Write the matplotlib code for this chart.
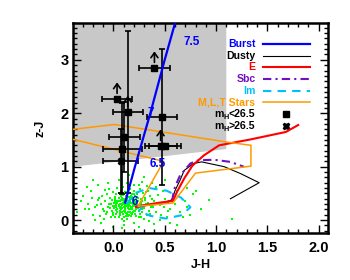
import matplotlib
matplotlib.use("Agg")
from matplotlib import pyplot as plt
from matplotlib.ticker import MultipleLocator
from matplotlib.transforms import offset_copy

plt.rcParams['font.family'] = ['Liberation Sans', 'DejaVu Sans']
plt.rcParams['font.weight'] = 'bold'

# selection region (grey) and tracks
region_x = [-0.39, 1.10, 1.10, -0.39]
region_y = [1.00, 1.33, 3.80, 3.80]

burst_x = [0.115, 0.21, 0.36, 0.50, 0.61]
burst_y = [0.33, 1.00, 2.00, 3.00, 3.75]
burst_lbl = ['6', '6.5', '7', '7.5']
burst_lbl_x = [0.175, 0.35, 0.33, 0.68]
burst_lbl_y = [0.34, 1.05, 2.00, 3.33]

e_x = [0.22, 0.30, 0.46, 0.58, 0.62, 0.69, 0.77, 0.88, 1.03, 1.335, 1.68, 1.80]
e_y = [0.25, 0.28, 0.33, 0.36, 0.53, 0.78, 1.02, 1.21, 1.40, 1.51, 1.65, 1.78]

sbc_x = [0.22, 0.40, 0.57, 0.58, 0.60, 0.65, 0.75, 0.83, 0.98, 1.14, 1.27]
sbc_y = [0.25, 0.30, 0.33, 0.45, 0.62, 0.84, 1.06, 1.12, 1.13, 1.09, 1.00]

dusty_x = [0.22, 0.45, 0.57, 0.60, 0.65, 0.69, 0.78, 0.86, 1.08, 1.24, 1.42, 1.14]
dusty_y = [0.25, 0.30, 0.38, 0.55, 0.75, 0.93, 1.06, 1.09, 1.00, 0.87, 0.70, 0.40]

im_x = [0.13, 0.20, 0.35, 0.52, 0.66, 0.75, 0.66, 0.51, 0.36, 0.25, 0.30]
im_y = [0.30, 0.50, 0.60, 0.55, 0.42, 0.24, 0.09, 0.03, 0.08, 0.18, 0.28]

stars_x = [-0.39, 0.01, 1.11, 1.34, 1.34, 0.80, 0.58, 0.24, 0.49, -0.39]
stars_y = [1.70, 1.79, 1.46, 1.40, 1.01, 0.88, 0.32, 0.26, 1.10, 1.51]

# simulated objects (green)
sim_x = [0.05, 0.12, 0.08, 0.15, 0.02, 0.18, 0.10, 0.07, 0.20, 0.13,
         -0.02, 0.25, 0.09, 0.16, 0.04, 0.11, 0.22, 0.01, 0.14, 0.19,
         0.06, 0.28, -0.05, 0.12, 0.17, 0.03, 0.23, 0.08, 0.10, 0.30,
         -0.08, 0.15, 0.21, 0.00, 0.13, 0.26, 0.07, 0.18, -0.03, 0.11,
         0.24, 0.05, 0.16, 0.09, 0.32, -0.10, 0.14, 0.20, 0.02, 0.27,
         0.12, 0.06, 0.35, -0.06, 0.17, 0.22, 0.04, 0.10, 0.29, -0.12,
         0.19, 0.08, 0.13, 0.31, -0.01, 0.16, 0.25, 0.03, 0.11, 0.37,
         -0.15, 0.21, 0.07, 0.14, 0.33, 0.00, 0.18, 0.27, 0.09, -0.07,
         0.23, 0.12, 0.40, 0.05, 0.17, -0.18, 0.28, 0.10, 0.20, 0.02,
         0.36, -0.04, 0.15, 0.26, 0.08, 0.42, -0.11, 0.19, 0.13, 0.30,
         0.06, 0.24, -0.02, 0.34, 0.11, 0.16, 0.45, -0.09, 0.22, 0.04,
         -0.25, -0.30, -0.20, -0.22, -0.28, -0.15, -0.18, -0.12, -0.26, -0.32,
         0.50, 0.55, 0.48, 0.60, 0.52, 0.58, 0.65, 0.47, 0.70, 0.62,
         0.38, 0.28, 0.05, -0.05, 0.18, 0.42, 0.10, 0.20, 0.35, 0.00,
         0.45, 0.55, 0.75, 0.80, 0.78, 0.93, 1.16, 0.72, 0.68, 0.40,
         -0.35, 0.15, 0.08, 0.30, 0.62, 0.85, 0.50, 0.72, -0.20, 0.25,
         0.01, 0.03, 0.05, 0.07, 0.09, 0.11, 0.13, 0.15, 0.17, 0.19,
         0.21, 0.23, 0.00, 0.02, 0.04, 0.06, 0.08, 0.10, 0.12, 0.14,
         0.16, 0.18, 0.20, 0.22, 0.24, -0.03, -0.01, 0.01, 0.03, 0.05,
         0.07, 0.09, 0.11, 0.13, 0.15, 0.17, 0.19, 0.21, 0.26, 0.28,
         0.04, 0.08, 0.12, 0.16, 0.20, 0.24, 0.06, 0.10, 0.14, 0.18,
         0.02, 0.09, 0.15, 0.21, 0.27, 0.05, 0.11, 0.17, 0.23, 0.29,
         -0.04, 0.00, 0.07, 0.13, 0.19, 0.25, 0.03, 0.08, 0.14, 0.20,
         0.10, 0.16, 0.06, 0.12, 0.18, 0.22, 0.31, 0.34, -0.06, 0.38,
         -0.14, -0.09, 0.39, 0.44, 0.32, -0.16, 0.27, 0.36, -0.08, 0.43,
         0.53, 0.57, -0.21, -0.24, 0.41, 0.46, 0.33, -0.13, 0.25, 0.49]
sim_y = [0.28, 0.35, 0.22, 0.30, 0.40, 0.25, 0.18, 0.45, 0.38, 0.12,
         0.30, 0.28, 0.33, 0.42, 0.15, 0.27, 0.20, 0.22, 0.50, 0.15,
         0.36, 0.35, 0.25, 0.08, 0.33, 0.48, 0.44, 0.02, 0.40, 0.22,
         0.35, 0.20, 0.30, 0.10, 0.38, 0.12, 0.55, 0.48, 0.42, 0.23,
         0.36, 0.05, 0.26, 0.12, 0.30, 0.20, 0.16, 0.55, 0.32, 0.40,
         0.45, 0.18, 0.18, 0.48, 0.08, 0.26, 0.60, 0.30, 0.50, 0.30,
         0.35, 0.28, 0.02, 0.42, 0.18, 0.58, 0.05, 0.25, 0.52, 0.25,
         0.38, 0.12, 0.38, 0.33, 0.10, 0.52, 0.20, 0.30, 0.62, 0.12,
         0.48, 0.14, 0.35, 0.42, 0.40, 0.25, 0.20, -0.02, 0.65, 0.05,
         0.45, 0.58, 0.10, 0.58, 0.48, 0.15, 0.45, 0.28, 0.70, 0.02,
         0.30, 0.22, 0.05, 0.55, 0.36, 0.15, 0.28, 0.02, 0.40, 0.35,
         0.30, 0.45, 0.10, 0.55, 0.20, 0.65, 0.00, -0.05, 0.62, 0.35,
         0.40, 0.20, 0.55, 0.30, 0.05, 0.45, 0.15, 0.65, 0.35, 0.55,
         0.70, 0.72, 0.75, 0.70, 0.78, 0.62, -0.10, -0.05, -0.02, -0.12,
         0.00, -0.05, 0.10, 0.55, 0.48, 0.37, 0.02, 0.60, 0.05, -0.08,
         0.15, 0.85, -0.15, 0.80, -0.10, 0.20, 0.75, 0.25, 0.75, -0.12,
         0.33, 0.19, 0.26, 0.31, 0.37, 0.21, 0.29, 0.36, 0.24, 0.41,
         0.34, 0.27, 0.14, 0.44, 0.32, 0.09, 0.40, 0.25, 0.31, 0.22,
         0.37, 0.43, 0.18, 0.33, 0.29, 0.22, 0.38, 0.27, 0.12, 0.35,
         0.24, 0.47, 0.16, 0.42, 0.28, 0.13, 0.31, 0.46, 0.24, 0.15,
         0.20, 0.16, 0.39, 0.20, 0.27, 0.41, 0.23, 0.35, 0.26, 0.11,
         0.36, 0.30, 0.44, 0.17, 0.33, 0.51, 0.19, 0.46, 0.35, 0.27,
         0.30, 0.26, 0.20, 0.53, 0.39, 0.18, 0.29, 0.42, 0.08, 0.49,
         0.06, 0.34, 0.13, 0.27, 0.32, 0.08, 0.37, 0.33, 0.16, 0.40,
         0.41, 0.17, 0.24, 0.33, 0.52, 0.28, 0.06, 0.12, 0.57, 0.47,
         0.18, 0.38, 0.42, 0.21, 0.58, 0.09, 0.63, 0.07, 0.66, 0.25]

# observed candidates, m_H < 26.5 (squares)
obs_x = [0.40, 0.475, 0.036, 0.14, 0.107, 0.085, 0.46, 0.50]
obs_y = [2.85, 1.93, 2.27, 2.02, 1.56, 1.34, 1.39, 1.39]
obs_xerr = [0.155, 0.145, 0.15, 0.145, 0.15, 0.19, 0.155, 0.155]
obs_yerr = [0.0, 1.28, 0.0, 1.52, 0.65, 0.85, 0.0, 0.0]
obs_lolim = [True, False, True, True, False, False, True, False]

# m_H > 26.5 (crosses)
faint_x = [0.07]
faint_y = [1.10]
faint_xerr = [0.17]
faint_yerr = [0.60]

legend_names = ['Burst', 'Dusty', 'E', 'Sbc', 'Im', 'M,L,T Stars']
legend_colors = ['#0000ff', 'black', '#ff0000', '#7010c0', '#00bfff', '#ff9900']
mag_names = ['<26.5', '>26.5']

fig = plt.figure(figsize=(3.5, 2.8), dpi=100)
ax = fig.add_axes([0.2095, 0.168, 0.7275, 0.75])

ax.fill(region_x, region_y, color='#c8c8c8', lw=0, zorder=0)
ax.scatter(sim_x, sim_y, s=3.5, color='#00ff00', marker='s', lw=0, zorder=1)

ax.plot(dusty_x, dusty_y, color='black', lw=0.8, zorder=2)
ax.plot(im_x, im_y, color='#00bfff', lw=1.5, ls=(0, (4, 3)), zorder=2)
ax.plot(sbc_x, sbc_y, color='#7010c0', lw=1.5, ls=(0, (4, 2, 1, 2)), zorder=2)
ax.plot(e_x, e_y, color='#ff0000', lw=1.5, zorder=3)
ax.plot(stars_x, stars_y, color='#ff9900', lw=1.1, zorder=3)

ax.errorbar(obs_x, obs_y, xerr=obs_xerr, yerr=obs_yerr, fmt='s', color='black',
            ms=5, elinewidth=1.2, capsize=2, capthick=1.2, zorder=4)
ax.errorbar(faint_x, faint_y, xerr=faint_xerr, yerr=faint_yerr, fmt='X', color='black',
            ms=5, elinewidth=1.2, capsize=2, capthick=1.2, zorder=4)
for x, y, lim in zip(obs_x, obs_y, obs_lolim):
    if lim:
        ax.annotate('', xy=(x, y + 0.36), xytext=(x, y + 0.05),
                    arrowprops=dict(arrowstyle='->,head_length=0.35,head_width=0.25',
                                    lw=1.2, color='black'), zorder=5)

ax.plot(burst_x, burst_y, color='#0000ff', lw=1.6, zorder=5)
for t, x, y in zip(burst_lbl, burst_lbl_x, burst_lbl_y):
    ax.text(x, y, t, color='#0000ff', fontsize=8.5, fontweight='bold',
            va='center', ha='left', zorder=6)

# legend drawn by hand, like the original
leg_y0 = 3.30
leg_dy = 0.219
for i, (name, col) in enumerate(zip(legend_names, legend_colors)):
    y = leg_y0 - i * leg_dy
    ax.text(1.384, y, name, color=col, fontsize=7.6, fontweight='bold',
            ha='right', va='center', zorder=6)

# m_H rows: "m", subscript "H", then the limit, placed piece by piece
fig.canvas.draw()
renderer = fig.canvas.get_renderer()
for i, name in enumerate(mag_names):
    y = leg_y0 - (6 + i) * leg_dy
    t1 = ax.text(1.384, y, name, fontsize=7.6, fontweight='bold',
                 ha='right', va='center', zorder=6)
    w1 = t1.get_window_extent(renderer).width * 72 / fig.dpi
    tr = offset_copy(ax.transData, fig=fig, x=-w1, y=-2.5, units='points')
    t2 = ax.text(1.384, y, 'H', fontsize=5.2, fontweight='bold',
                 ha='right', va='center', transform=tr, zorder=6)
    w2 = t2.get_window_extent(renderer).width * 72 / fig.dpi
    tr2 = offset_copy(ax.transData, fig=fig, x=-w1 - w2, y=0, units='points')
    ax.text(1.384, y, 'm', fontsize=7.6, fontweight='bold',
            ha='right', va='center', transform=tr2, zorder=6)

ax.plot([1.46, 1.92], [leg_y0] * 2, color='#0000ff', lw=1.6)
ax.plot([1.46, 1.92], [leg_y0 - leg_dy] * 2, color='black', lw=0.8)
ax.plot([1.46, 1.92], [leg_y0 - 2 * leg_dy] * 2, color='#ff0000', lw=1.5)
ax.plot([1.46, 1.92], [leg_y0 - 3 * leg_dy] * 2, color='#7010c0', lw=1.5, ls=(0, (4, 2, 1, 2)))
ax.plot([1.46, 1.92], [leg_y0 - 4 * leg_dy] * 2, color='#00bfff', lw=1.5, ls=(0, (4, 3)))
ax.plot([1.46, 1.92], [leg_y0 - 5 * leg_dy] * 2, color='#ff9900', lw=1.1)
ax.plot([1.685], [leg_y0 - 6 * leg_dy], 's', color='black', ms=4.5)
ax.plot([1.685], [leg_y0 - 7 * leg_dy], 'X', color='black', ms=5)

ax.set_xlim(-0.39, 2.09)
ax.set_ylim(-0.24, 3.69)
ax.xaxis.set_major_locator(MultipleLocator(0.5))
ax.xaxis.set_minor_locator(MultipleLocator(0.1))
ax.yaxis.set_major_locator(MultipleLocator(1))
ax.yaxis.set_minor_locator(MultipleLocator(0.1))
ax.set_xticks([0.0, 0.5, 1.0, 1.5, 2.0])
ax.set_xticklabels(['0.0', '0.5', '1.0', '1.5', '2.0'])
ax.tick_params(which='both', direction='in', top=True, right=True, width=1.0,
               labelsize=10.5)
ax.tick_params(which='major', length=6)
ax.tick_params(which='minor', length=3)
ax.tick_params(axis='x', pad=6)
for s in ax.spines.values():
    s.set_linewidth(1.8)
for lab in ax.get_xticklabels() + ax.get_yticklabels():
    lab.set_fontweight('bold')

ax.set_xlabel('J-H', fontsize=9, fontweight='bold', labelpad=3)
ax.set_ylabel('z-J', fontsize=9, fontweight='bold', labelpad=10)

fig.savefig('out.png', dpi=100)
